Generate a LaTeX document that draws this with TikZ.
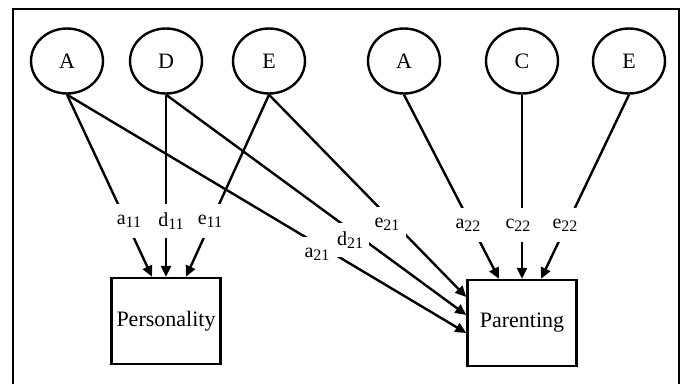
\documentclass[tikz,border=0pt]{standalone}
\usepackage{fontspec}
\setmainfont{Liberation Serif}
\usetikzlibrary{arrows.meta,shapes.geometric}
\newcommand{\idx}[1]{\raisebox{-3pt}{\fontsize{16}{16}\selectfont#1}}

\begin{document}
\begin{tikzpicture}[x=1pt, y=-1pt, node distance={100pt}, line width=2.4pt,
		font=\fontsize{22}{26}\selectfont,
		main/.style={draw,ellipse,minimum width=72pt,minimum height=65pt,inner sep=0pt},
		obs/.style={draw,rectangle,minimum width=109pt,minimum height=86pt,inner sep=0pt},
		lab/.style={fill=white,inner sep=0pt,minimum width=38pt,minimum height=34pt,font=\fontsize{20}{24}\selectfont},
		eff/.style={-{Triangle[length=11pt,width=10pt]}}]
		\useasboundingbox (0,0) rectangle (686,384);
		\draw (13,384) -- (13,9) -- (679,9) -- (679,384);

		\node[main] (1) at (67,61) {A};
		\node[main] (2) [node distance=99pt, right of=1] {D};
		\node[main] (3) [node distance=103pt, right of=2] {E};
		\node[main] (4) [node distance=135pt, right of=3] {A};
		\node[main] (5) [node distance=118pt, right of=4] {C};
		\node[main] (6) [node distance=107pt, right of=5] {E};
		\node[obs] (7) [node distance=260pt, below of=2] {Personality};
		\node[obs] (8) [node distance=262pt, below of=5] {Parenting};

		\draw[eff] (1.south) to ([xshift=-14pt]7.north);
		\draw[eff] (2.south) to (7.north);
		\draw[eff] (3.south) to ([xshift=20pt]7.north);
		\draw[eff] (1.south) to ([yshift=-10pt]8.west);
		\draw[eff] (2.south) to ([yshift=8pt]8.west);
		\draw[eff] (3.south) to ([yshift=26pt]8.west);
		\draw[eff] (4.south) to ([xshift=-23pt]8.north);
		\draw[eff] (5.south) to (8.north);
		\draw[eff] (6.south) to ([xshift=19pt]8.north);

		\node[lab] (9) at (129,221) {a\idx{11}};
		\node[lab] (10) at (171,221) {d\idx{11}};
		\node[lab] (11) at (210,221) {e\idx{11}};
		\node[lab] (12) at (317,254) {a\idx{21}};
		\node[lab] (13) at (350,240) {d\idx{21}};
		\node[lab] (14) at (387,224) {e\idx{21}};
		\node[lab] (15) at (468,225) {a\idx{22}};
		\node[lab] (16) at (518,225) {c\idx{22}};
		\node[lab] (17) at (565,225) {e\idx{22}};
	\end{tikzpicture}
\end{document}
